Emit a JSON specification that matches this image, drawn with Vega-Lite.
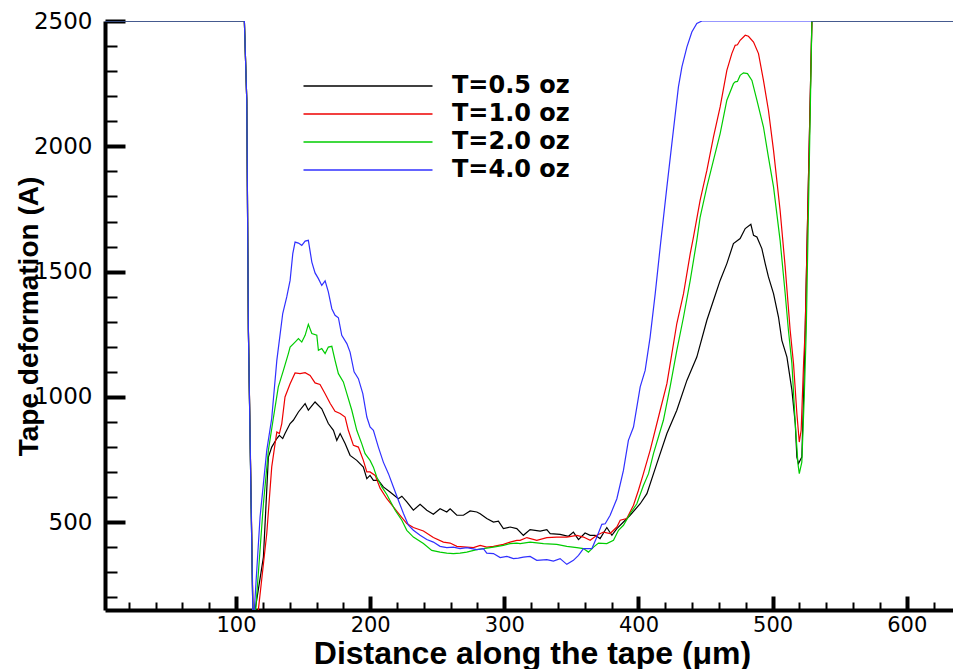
{
"$schema": "https://vega.github.io/schema/vega-lite/v6.json",
"width": 848, "height": 589,
"autosize": {"type": "none"},
"padding": {"left": 105, "top": 21, "right": 0, "bottom": 59},
"background": "white",
"config": {"view": {"stroke": null}},
"data": {"values": [
{"s":"T=0.5 oz","x":2.3,"y":2500},{"s":"T=0.5 oz","x":106.2,"y":2500},{"s":"T=0.5 oz","x":108.0,"y":2183},{"s":"T=0.5 oz","x":109.2,"y":1266},{"s":"T=0.5 oz","x":112.5,"y":149},{"s":"T=0.5 oz","x":113.6,"y":60},{"s":"T=0.5 oz","x":114.2,"y":149},{"s":"T=0.5 oz","x":120.4,"y":361},{"s":"T=0.5 oz","x":124.1,"y":760},{"s":"T=0.5 oz","x":126.6,"y":800},{"s":"T=0.5 oz","x":130.4,"y":834},{"s":"T=0.5 oz","x":132.3,"y":847},{"s":"T=0.5 oz","x":134.8,"y":834},{"s":"T=0.5 oz","x":136.5,"y":854},{"s":"T=0.5 oz","x":140.3,"y":894},{"s":"T=0.5 oz","x":142.7,"y":907},{"s":"T=0.5 oz","x":146.5,"y":940},{"s":"T=0.5 oz","x":151.5,"y":973},{"s":"T=0.5 oz","x":153.9,"y":947},{"s":"T=0.5 oz","x":158.9,"y":980},{"s":"T=0.5 oz","x":163.9,"y":953},{"s":"T=0.5 oz","x":168.8,"y":894},{"s":"T=0.5 oz","x":172.6,"y":867},{"s":"T=0.5 oz","x":175.1,"y":827},{"s":"T=0.5 oz","x":177.6,"y":854},{"s":"T=0.5 oz","x":181.3,"y":814},{"s":"T=0.5 oz","x":185.0,"y":767},{"s":"T=0.5 oz","x":190.0,"y":747},{"s":"T=0.5 oz","x":194.9,"y":720},{"s":"T=0.5 oz","x":197.5,"y":674},{"s":"T=0.5 oz","x":199.9,"y":687},{"s":"T=0.5 oz","x":202.4,"y":667},{"s":"T=0.5 oz","x":206.1,"y":667},{"s":"T=0.5 oz","x":209.8,"y":641},{"s":"T=0.5 oz","x":214.8,"y":621},{"s":"T=0.5 oz","x":221.0,"y":594},{"s":"T=0.5 oz","x":223.6,"y":604},{"s":"T=0.5 oz","x":227.3,"y":581},{"s":"T=0.5 oz","x":232.2,"y":548},{"s":"T=0.5 oz","x":237.2,"y":572},{"s":"T=0.5 oz","x":242.2,"y":548},{"s":"T=0.5 oz","x":247.1,"y":532},{"s":"T=0.5 oz","x":252.1,"y":554},{"s":"T=0.5 oz","x":257.1,"y":541},{"s":"T=0.5 oz","x":259.6,"y":554},{"s":"T=0.5 oz","x":264.6,"y":528},{"s":"T=0.5 oz","x":269.5,"y":528},{"s":"T=0.5 oz","x":274.5,"y":545},{"s":"T=0.5 oz","x":279.5,"y":541},{"s":"T=0.5 oz","x":282.0,"y":534},{"s":"T=0.5 oz","x":286.9,"y":515},{"s":"T=0.5 oz","x":291.9,"y":501},{"s":"T=0.5 oz","x":295.6,"y":504},{"s":"T=0.5 oz","x":299.3,"y":475},{"s":"T=0.5 oz","x":304.3,"y":481},{"s":"T=0.5 oz","x":309.3,"y":475},{"s":"T=0.5 oz","x":314.2,"y":448},{"s":"T=0.5 oz","x":319.2,"y":471},{"s":"T=0.5 oz","x":326.7,"y":465},{"s":"T=0.5 oz","x":331.7,"y":471},{"s":"T=0.5 oz","x":334.2,"y":455},{"s":"T=0.5 oz","x":341.6,"y":452},{"s":"T=0.5 oz","x":347.8,"y":444},{"s":"T=0.5 oz","x":351.5,"y":461},{"s":"T=0.5 oz","x":355.3,"y":431},{"s":"T=0.5 oz","x":360.2,"y":457},{"s":"T=0.5 oz","x":364.0,"y":448},{"s":"T=0.5 oz","x":367.7,"y":448},{"s":"T=0.5 oz","x":371.4,"y":435},{"s":"T=0.5 oz","x":376.4,"y":479},{"s":"T=0.5 oz","x":380.2,"y":448},{"s":"T=0.5 oz","x":383.9,"y":475},{"s":"T=0.5 oz","x":388.8,"y":501},{"s":"T=0.5 oz","x":393.8,"y":528},{"s":"T=0.5 oz","x":401.3,"y":574},{"s":"T=0.5 oz","x":406.3,"y":614},{"s":"T=0.5 oz","x":413.7,"y":734},{"s":"T=0.5 oz","x":421.2,"y":854},{"s":"T=0.5 oz","x":428.6,"y":947},{"s":"T=0.5 oz","x":436.1,"y":1066},{"s":"T=0.5 oz","x":443.5,"y":1159},{"s":"T=0.5 oz","x":451.0,"y":1306},{"s":"T=0.5 oz","x":457.2,"y":1406},{"s":"T=0.5 oz","x":460.9,"y":1465},{"s":"T=0.5 oz","x":465.9,"y":1532},{"s":"T=0.5 oz","x":470.8,"y":1612},{"s":"T=0.5 oz","x":475.8,"y":1632},{"s":"T=0.5 oz","x":479.6,"y":1672},{"s":"T=0.5 oz","x":483.8,"y":1689},{"s":"T=0.5 oz","x":485.8,"y":1645},{"s":"T=0.5 oz","x":488.3,"y":1638},{"s":"T=0.5 oz","x":492.0,"y":1592},{"s":"T=0.5 oz","x":494.5,"y":1532},{"s":"T=0.5 oz","x":496.9,"y":1479},{"s":"T=0.5 oz","x":500.7,"y":1412},{"s":"T=0.5 oz","x":504.4,"y":1319},{"s":"T=0.5 oz","x":506.9,"y":1226},{"s":"T=0.5 oz","x":510.7,"y":1159},{"s":"T=0.5 oz","x":514.4,"y":1027},{"s":"T=0.5 oz","x":516.9,"y":894},{"s":"T=0.5 oz","x":518.1,"y":760},{"s":"T=0.5 oz","x":519.3,"y":734},{"s":"T=0.5 oz","x":521.8,"y":760},{"s":"T=0.5 oz","x":523.1,"y":1000},{"s":"T=0.5 oz","x":524.3,"y":1266},{"s":"T=0.5 oz","x":529.3,"y":2500},{"s":"T=0.5 oz","x":634.5,"y":2500},
{"s":"T=1.0 oz","x":2.3,"y":2500},{"s":"T=1.0 oz","x":106.2,"y":2500},{"s":"T=1.0 oz","x":108.0,"y":2183},{"s":"T=1.0 oz","x":109.2,"y":1266},{"s":"T=1.0 oz","x":112.6,"y":149},{"s":"T=1.0 oz","x":114.8,"y":60},{"s":"T=1.0 oz","x":116.6,"y":149},{"s":"T=1.0 oz","x":122.9,"y":455},{"s":"T=1.0 oz","x":126.6,"y":721},{"s":"T=1.0 oz","x":129.1,"y":814},{"s":"T=1.0 oz","x":130.4,"y":860},{"s":"T=1.0 oz","x":132.3,"y":854},{"s":"T=1.0 oz","x":134.1,"y":894},{"s":"T=1.0 oz","x":136.5,"y":1000},{"s":"T=1.0 oz","x":140.3,"y":1053},{"s":"T=1.0 oz","x":144.0,"y":1096},{"s":"T=1.0 oz","x":147.7,"y":1093},{"s":"T=1.0 oz","x":151.5,"y":1097},{"s":"T=1.0 oz","x":155.2,"y":1086},{"s":"T=1.0 oz","x":158.9,"y":1056},{"s":"T=1.0 oz","x":162.6,"y":1050},{"s":"T=1.0 oz","x":166.4,"y":1013},{"s":"T=1.0 oz","x":170.1,"y":975},{"s":"T=1.0 oz","x":173.8,"y":943},{"s":"T=1.0 oz","x":177.6,"y":934},{"s":"T=1.0 oz","x":181.3,"y":920},{"s":"T=1.0 oz","x":183.7,"y":867},{"s":"T=1.0 oz","x":187.5,"y":807},{"s":"T=1.0 oz","x":191.2,"y":800},{"s":"T=1.0 oz","x":194.9,"y":747},{"s":"T=1.0 oz","x":197.5,"y":701},{"s":"T=1.0 oz","x":199.9,"y":701},{"s":"T=1.0 oz","x":203.7,"y":687},{"s":"T=1.0 oz","x":207.4,"y":636},{"s":"T=1.0 oz","x":212.4,"y":594},{"s":"T=1.0 oz","x":217.3,"y":561},{"s":"T=1.0 oz","x":222.3,"y":528},{"s":"T=1.0 oz","x":227.3,"y":495},{"s":"T=1.0 oz","x":232.2,"y":479},{"s":"T=1.0 oz","x":239.7,"y":465},{"s":"T=1.0 oz","x":247.1,"y":439},{"s":"T=1.0 oz","x":254.6,"y":421},{"s":"T=1.0 oz","x":259.6,"y":417},{"s":"T=1.0 oz","x":264.6,"y":404},{"s":"T=1.0 oz","x":272.0,"y":401},{"s":"T=1.0 oz","x":277.0,"y":399},{"s":"T=1.0 oz","x":282.0,"y":408},{"s":"T=1.0 oz","x":286.9,"y":401},{"s":"T=1.0 oz","x":291.9,"y":404},{"s":"T=1.0 oz","x":299.3,"y":412},{"s":"T=1.0 oz","x":304.3,"y":421},{"s":"T=1.0 oz","x":309.3,"y":428},{"s":"T=1.0 oz","x":311.8,"y":428},{"s":"T=1.0 oz","x":316.8,"y":439},{"s":"T=1.0 oz","x":324.2,"y":428},{"s":"T=1.0 oz","x":331.7,"y":439},{"s":"T=1.0 oz","x":339.1,"y":441},{"s":"T=1.0 oz","x":346.6,"y":441},{"s":"T=1.0 oz","x":354.1,"y":448},{"s":"T=1.0 oz","x":359.0,"y":441},{"s":"T=1.0 oz","x":364.0,"y":428},{"s":"T=1.0 oz","x":369.0,"y":448},{"s":"T=1.0 oz","x":373.9,"y":461},{"s":"T=1.0 oz","x":378.9,"y":455},{"s":"T=1.0 oz","x":383.9,"y":481},{"s":"T=1.0 oz","x":386.4,"y":508},{"s":"T=1.0 oz","x":391.3,"y":515},{"s":"T=1.0 oz","x":396.3,"y":568},{"s":"T=1.0 oz","x":400.0,"y":628},{"s":"T=1.0 oz","x":403.7,"y":694},{"s":"T=1.0 oz","x":408.7,"y":787},{"s":"T=1.0 oz","x":416.2,"y":947},{"s":"T=1.0 oz","x":421.2,"y":1053},{"s":"T=1.0 oz","x":424.9,"y":1173},{"s":"T=1.0 oz","x":428.6,"y":1293},{"s":"T=1.0 oz","x":433.6,"y":1412},{"s":"T=1.0 oz","x":438.6,"y":1572},{"s":"T=1.0 oz","x":441.0,"y":1638},{"s":"T=1.0 oz","x":446.0,"y":1785},{"s":"T=1.0 oz","x":451.0,"y":1904},{"s":"T=1.0 oz","x":455.9,"y":2037},{"s":"T=1.0 oz","x":460.9,"y":2157},{"s":"T=1.0 oz","x":465.9,"y":2303},{"s":"T=1.0 oz","x":469.6,"y":2370},{"s":"T=1.0 oz","x":472.1,"y":2403},{"s":"T=1.0 oz","x":473.8,"y":2405},{"s":"T=1.0 oz","x":475.8,"y":2423},{"s":"T=1.0 oz","x":479.6,"y":2443},{"s":"T=1.0 oz","x":482.0,"y":2439},{"s":"T=1.0 oz","x":485.8,"y":2416},{"s":"T=1.0 oz","x":489.5,"y":2370},{"s":"T=1.0 oz","x":493.2,"y":2263},{"s":"T=1.0 oz","x":496.9,"y":2144},{"s":"T=1.0 oz","x":500.7,"y":1984},{"s":"T=1.0 oz","x":505.6,"y":1745},{"s":"T=1.0 oz","x":509.4,"y":1518},{"s":"T=1.0 oz","x":513.1,"y":1266},{"s":"T=1.0 oz","x":515.6,"y":1133},{"s":"T=1.0 oz","x":518.1,"y":934},{"s":"T=1.0 oz","x":519.9,"y":820},{"s":"T=1.0 oz","x":521.3,"y":867},{"s":"T=1.0 oz","x":523.1,"y":1133},{"s":"T=1.0 oz","x":524.3,"y":1266},{"s":"T=1.0 oz","x":529.3,"y":2500},{"s":"T=1.0 oz","x":634.5,"y":2500},
{"s":"T=2.0 oz","x":2.3,"y":2500},{"s":"T=2.0 oz","x":106.2,"y":2500},{"s":"T=2.0 oz","x":108.0,"y":2183},{"s":"T=2.0 oz","x":109.2,"y":1266},{"s":"T=2.0 oz","x":112.5,"y":149},{"s":"T=2.0 oz","x":114.0,"y":60},{"s":"T=2.0 oz","x":114.6,"y":149},{"s":"T=2.0 oz","x":120.4,"y":574},{"s":"T=2.0 oz","x":124.1,"y":787},{"s":"T=2.0 oz","x":127.8,"y":915},{"s":"T=2.0 oz","x":131.5,"y":1040},{"s":"T=2.0 oz","x":135.3,"y":1106},{"s":"T=2.0 oz","x":139.0,"y":1173},{"s":"T=2.0 oz","x":140.3,"y":1199},{"s":"T=2.0 oz","x":144.0,"y":1219},{"s":"T=2.0 oz","x":146.5,"y":1233},{"s":"T=2.0 oz","x":149.0,"y":1219},{"s":"T=2.0 oz","x":151.5,"y":1246},{"s":"T=2.0 oz","x":153.9,"y":1290},{"s":"T=2.0 oz","x":156.5,"y":1253},{"s":"T=2.0 oz","x":160.2,"y":1246},{"s":"T=2.0 oz","x":161.4,"y":1186},{"s":"T=2.0 oz","x":163.9,"y":1193},{"s":"T=2.0 oz","x":166.4,"y":1173},{"s":"T=2.0 oz","x":168.8,"y":1199},{"s":"T=2.0 oz","x":171.4,"y":1202},{"s":"T=2.0 oz","x":173.8,"y":1146},{"s":"T=2.0 oz","x":176.3,"y":1093},{"s":"T=2.0 oz","x":180.0,"y":1060},{"s":"T=2.0 oz","x":182.6,"y":1013},{"s":"T=2.0 oz","x":186.3,"y":947},{"s":"T=2.0 oz","x":190.0,"y":867},{"s":"T=2.0 oz","x":193.7,"y":814},{"s":"T=2.0 oz","x":196.2,"y":774},{"s":"T=2.0 oz","x":199.9,"y":747},{"s":"T=2.0 oz","x":202.4,"y":720},{"s":"T=2.0 oz","x":204.9,"y":681},{"s":"T=2.0 oz","x":208.7,"y":641},{"s":"T=2.0 oz","x":212.4,"y":611},{"s":"T=2.0 oz","x":218.6,"y":548},{"s":"T=2.0 oz","x":223.6,"y":508},{"s":"T=2.0 oz","x":227.3,"y":468},{"s":"T=2.0 oz","x":232.2,"y":441},{"s":"T=2.0 oz","x":239.7,"y":415},{"s":"T=2.0 oz","x":245.9,"y":388},{"s":"T=2.0 oz","x":252.1,"y":381},{"s":"T=2.0 oz","x":257.1,"y":377},{"s":"T=2.0 oz","x":262.0,"y":375},{"s":"T=2.0 oz","x":267.0,"y":377},{"s":"T=2.0 oz","x":272.0,"y":381},{"s":"T=2.0 oz","x":279.5,"y":391},{"s":"T=2.0 oz","x":284.4,"y":395},{"s":"T=2.0 oz","x":291.9,"y":401},{"s":"T=2.0 oz","x":299.3,"y":408},{"s":"T=2.0 oz","x":304.3,"y":415},{"s":"T=2.0 oz","x":309.3,"y":417},{"s":"T=2.0 oz","x":311.8,"y":415},{"s":"T=2.0 oz","x":319.2,"y":421},{"s":"T=2.0 oz","x":329.2,"y":415},{"s":"T=2.0 oz","x":339.1,"y":412},{"s":"T=2.0 oz","x":346.6,"y":404},{"s":"T=2.0 oz","x":354.1,"y":399},{"s":"T=2.0 oz","x":359.0,"y":395},{"s":"T=2.0 oz","x":362.7,"y":381},{"s":"T=2.0 oz","x":366.5,"y":401},{"s":"T=2.0 oz","x":370.2,"y":417},{"s":"T=2.0 oz","x":376.4,"y":415},{"s":"T=2.0 oz","x":381.4,"y":428},{"s":"T=2.0 oz","x":385.1,"y":468},{"s":"T=2.0 oz","x":388.8,"y":488},{"s":"T=2.0 oz","x":393.8,"y":534},{"s":"T=2.0 oz","x":398.8,"y":574},{"s":"T=2.0 oz","x":403.7,"y":647},{"s":"T=2.0 oz","x":407.5,"y":694},{"s":"T=2.0 oz","x":411.2,"y":774},{"s":"T=2.0 oz","x":418.6,"y":907},{"s":"T=2.0 oz","x":423.6,"y":1040},{"s":"T=2.0 oz","x":428.6,"y":1186},{"s":"T=2.0 oz","x":433.6,"y":1319},{"s":"T=2.0 oz","x":438.6,"y":1465},{"s":"T=2.0 oz","x":443.5,"y":1625},{"s":"T=2.0 oz","x":446.0,"y":1718},{"s":"T=2.0 oz","x":451.0,"y":1838},{"s":"T=2.0 oz","x":455.9,"y":1944},{"s":"T=2.0 oz","x":460.9,"y":2051},{"s":"T=2.0 oz","x":465.9,"y":2184},{"s":"T=2.0 oz","x":470.8,"y":2250},{"s":"T=2.0 oz","x":472.1,"y":2257},{"s":"T=2.0 oz","x":473.8,"y":2259},{"s":"T=2.0 oz","x":475.8,"y":2283},{"s":"T=2.0 oz","x":478.3,"y":2293},{"s":"T=2.0 oz","x":481.3,"y":2290},{"s":"T=2.0 oz","x":484.6,"y":2263},{"s":"T=2.0 oz","x":488.3,"y":2184},{"s":"T=2.0 oz","x":493.2,"y":2077},{"s":"T=2.0 oz","x":496.9,"y":1957},{"s":"T=2.0 oz","x":500.7,"y":1838},{"s":"T=2.0 oz","x":505.6,"y":1625},{"s":"T=2.0 oz","x":509.4,"y":1412},{"s":"T=2.0 oz","x":511.8,"y":1266},{"s":"T=2.0 oz","x":514.4,"y":1133},{"s":"T=2.0 oz","x":516.9,"y":894},{"s":"T=2.0 oz","x":518.9,"y":734},{"s":"T=2.0 oz","x":519.9,"y":694},{"s":"T=2.0 oz","x":521.8,"y":740},{"s":"T=2.0 oz","x":523.6,"y":1000},{"s":"T=2.0 oz","x":525.1,"y":1266},{"s":"T=2.0 oz","x":529.3,"y":2500},{"s":"T=2.0 oz","x":634.5,"y":2500},
{"s":"T=4.0 oz","x":2.3,"y":2500},{"s":"T=4.0 oz","x":106.2,"y":2500},{"s":"T=4.0 oz","x":108.0,"y":2183},{"s":"T=4.0 oz","x":109.2,"y":1266},{"s":"T=4.0 oz","x":112.5,"y":149},{"s":"T=4.0 oz","x":113.0,"y":80},{"s":"T=4.0 oz","x":113.6,"y":149},{"s":"T=4.0 oz","x":117.9,"y":521},{"s":"T=4.0 oz","x":122.9,"y":787},{"s":"T=4.0 oz","x":126.6,"y":915},{"s":"T=4.0 oz","x":130.4,"y":1146},{"s":"T=4.0 oz","x":134.8,"y":1333},{"s":"T=4.0 oz","x":137.8,"y":1399},{"s":"T=4.0 oz","x":140.3,"y":1465},{"s":"T=4.0 oz","x":142.3,"y":1572},{"s":"T=4.0 oz","x":144.0,"y":1618},{"s":"T=4.0 oz","x":146.5,"y":1614},{"s":"T=4.0 oz","x":149.0,"y":1605},{"s":"T=4.0 oz","x":151.5,"y":1622},{"s":"T=4.0 oz","x":153.9,"y":1625},{"s":"T=4.0 oz","x":156.5,"y":1538},{"s":"T=4.0 oz","x":158.9,"y":1495},{"s":"T=4.0 oz","x":161.4,"y":1472},{"s":"T=4.0 oz","x":163.9,"y":1445},{"s":"T=4.0 oz","x":166.4,"y":1463},{"s":"T=4.0 oz","x":168.8,"y":1419},{"s":"T=4.0 oz","x":171.4,"y":1352},{"s":"T=4.0 oz","x":173.8,"y":1326},{"s":"T=4.0 oz","x":176.3,"y":1316},{"s":"T=4.0 oz","x":178.8,"y":1246},{"s":"T=4.0 oz","x":182.6,"y":1213},{"s":"T=4.0 oz","x":185.0,"y":1179},{"s":"T=4.0 oz","x":188.0,"y":1100},{"s":"T=4.0 oz","x":191.2,"y":1073},{"s":"T=4.0 oz","x":194.5,"y":1013},{"s":"T=4.0 oz","x":197.5,"y":920},{"s":"T=4.0 oz","x":199.9,"y":880},{"s":"T=4.0 oz","x":202.4,"y":867},{"s":"T=4.0 oz","x":206.1,"y":800},{"s":"T=4.0 oz","x":209.8,"y":740},{"s":"T=4.0 oz","x":213.6,"y":694},{"s":"T=4.0 oz","x":217.3,"y":641},{"s":"T=4.0 oz","x":221.0,"y":588},{"s":"T=4.0 oz","x":224.8,"y":535},{"s":"T=4.0 oz","x":228.5,"y":488},{"s":"T=4.0 oz","x":232.2,"y":468},{"s":"T=4.0 oz","x":237.2,"y":448},{"s":"T=4.0 oz","x":242.2,"y":431},{"s":"T=4.0 oz","x":247.1,"y":421},{"s":"T=4.0 oz","x":252.1,"y":404},{"s":"T=4.0 oz","x":257.1,"y":399},{"s":"T=4.0 oz","x":262.0,"y":401},{"s":"T=4.0 oz","x":267.0,"y":395},{"s":"T=4.0 oz","x":272.0,"y":399},{"s":"T=4.0 oz","x":279.5,"y":391},{"s":"T=4.0 oz","x":284.4,"y":395},{"s":"T=4.0 oz","x":286.9,"y":377},{"s":"T=4.0 oz","x":291.9,"y":375},{"s":"T=4.0 oz","x":296.9,"y":359},{"s":"T=4.0 oz","x":301.9,"y":364},{"s":"T=4.0 oz","x":306.8,"y":355},{"s":"T=4.0 oz","x":310.5,"y":357},{"s":"T=4.0 oz","x":314.2,"y":361},{"s":"T=4.0 oz","x":319.2,"y":364},{"s":"T=4.0 oz","x":324.2,"y":348},{"s":"T=4.0 oz","x":331.7,"y":351},{"s":"T=4.0 oz","x":336.6,"y":345},{"s":"T=4.0 oz","x":341.6,"y":355},{"s":"T=4.0 oz","x":346.6,"y":332},{"s":"T=4.0 oz","x":351.5,"y":348},{"s":"T=4.0 oz","x":355.3,"y":368},{"s":"T=4.0 oz","x":359.0,"y":395},{"s":"T=4.0 oz","x":365.3,"y":395},{"s":"T=4.0 oz","x":369.0,"y":441},{"s":"T=4.0 oz","x":372.7,"y":492},{"s":"T=4.0 oz","x":375.2,"y":494},{"s":"T=4.0 oz","x":378.9,"y":528},{"s":"T=4.0 oz","x":383.9,"y":594},{"s":"T=4.0 oz","x":388.8,"y":707},{"s":"T=4.0 oz","x":392.5,"y":827},{"s":"T=4.0 oz","x":396.3,"y":880},{"s":"T=4.0 oz","x":401.3,"y":1040},{"s":"T=4.0 oz","x":405.0,"y":1106},{"s":"T=4.0 oz","x":408.7,"y":1239},{"s":"T=4.0 oz","x":412.5,"y":1412},{"s":"T=4.0 oz","x":416.2,"y":1598},{"s":"T=4.0 oz","x":421.2,"y":1838},{"s":"T=4.0 oz","x":424.9,"y":2011},{"s":"T=4.0 oz","x":429.8,"y":2237},{"s":"T=4.0 oz","x":432.4,"y":2317},{"s":"T=4.0 oz","x":436.1,"y":2396},{"s":"T=4.0 oz","x":439.8,"y":2456},{"s":"T=4.0 oz","x":443.5,"y":2490},{"s":"T=4.0 oz","x":447.3,"y":2500},{"s":"T=4.0 oz","x":634.5,"y":2500}
]},
"mark": {"type": "line", "clip": true, "strokeWidth": 1.2},
"encoding": {
  "x": {"field": "x", "type": "quantitative",
    "scale": {"domain": [2.3, 634.5], "nice": false, "zero": false},
    "axis": {
      "title": "Distance along the tape (μm)",
      "values": [20,40,60,80,100,120,140,160,180,200,220,240,260,280,300,320,340,360,380,400,420,440,460,480,500,520,540,560,580,600,620],
      "labelExpr": "datum.value % 100 === 0 ? datum.label : ''",
      "tickSize": {"condition": {"test": "datum.value % 100 === 0", "value": -14}, "value": -8},
      "tickWidth": {"condition": {"test": "datum.value % 100 === 0", "value": 4}, "value": 2},
      "tickColor": "black", "domainColor": "black", "domainWidth": 4,
      "grid": false, "labelFlush": false, "labelOverlap": false,
      "labelFont": "DejaVu Sans", "labelFontSize": 21, "labelColor": "black", "labelPadding": 18,
      "titleFont": "Liberation Sans", "titleFontSize": 32, "titleFontWeight": "bold", "titleColor": "black",
      "titleX": 427, "titleY": 53, "titleBaseline": "alphabetic", "titleAlign": "center"
    }
  },
  "y": {"field": "y", "type": "quantitative",
    "scale": {"domain": [150, 2500], "nice": false, "zero": false},
    "axis": {
      "title": "Tape deformation (A)",
      "values": [200,300,400,500,600,700,800,900,1000,1100,1200,1300,1400,1500,1600,1700,1800,1900,2000,2100,2200,2300,2400,2500],
      "labelExpr": "datum.value % 500 === 0 ? datum.label : ''",
      "format": "d",
      "tickSize": {"condition": {"test": "datum.value % 500 === 0", "value": -20}, "value": -12},
      "tickWidth": {"condition": {"test": "datum.value % 500 === 0", "value": 4}, "value": 2},
      "tickColor": "black", "domainColor": "black", "domainWidth": 4,
      "grid": false, "labelFlush": false, "labelOverlap": false,
      "labelFont": "DejaVu Sans", "labelFontSize": 23, "labelColor": "black", "labelPadding": 33,
      "titleFont": "Liberation Sans", "titleFontSize": 28, "titleFontWeight": "bold", "titleColor": "black",
      "titleX": -68, "titleY": 295, "titleAngle": -90, "titleBaseline": "alphabetic", "titleAlign": "center"
    }
  },
  "color": {"field": "s", "type": "nominal",
    "scale": {"domain": ["T=0.5 oz","T=1.0 oz","T=2.0 oz","T=4.0 oz"], "range": ["#000000","#ee0000","#00cc00","#3030ff"]},
    "legend": {
      "title": null, "orient": "none", "legendX": 251, "legendY": 53,
      "symbolType": "M-6.45,0H6.45", "symbolSize": 400, "symbolStrokeWidth": 1.5,
      "labelFont": "DejaVu Sans", "labelFontSize": 24, "labelFontWeight": "bold", "labelColor": "black",
      "labelOffset": 72, "rowPadding": 4, "padding": 0
    }
  }
}
}
